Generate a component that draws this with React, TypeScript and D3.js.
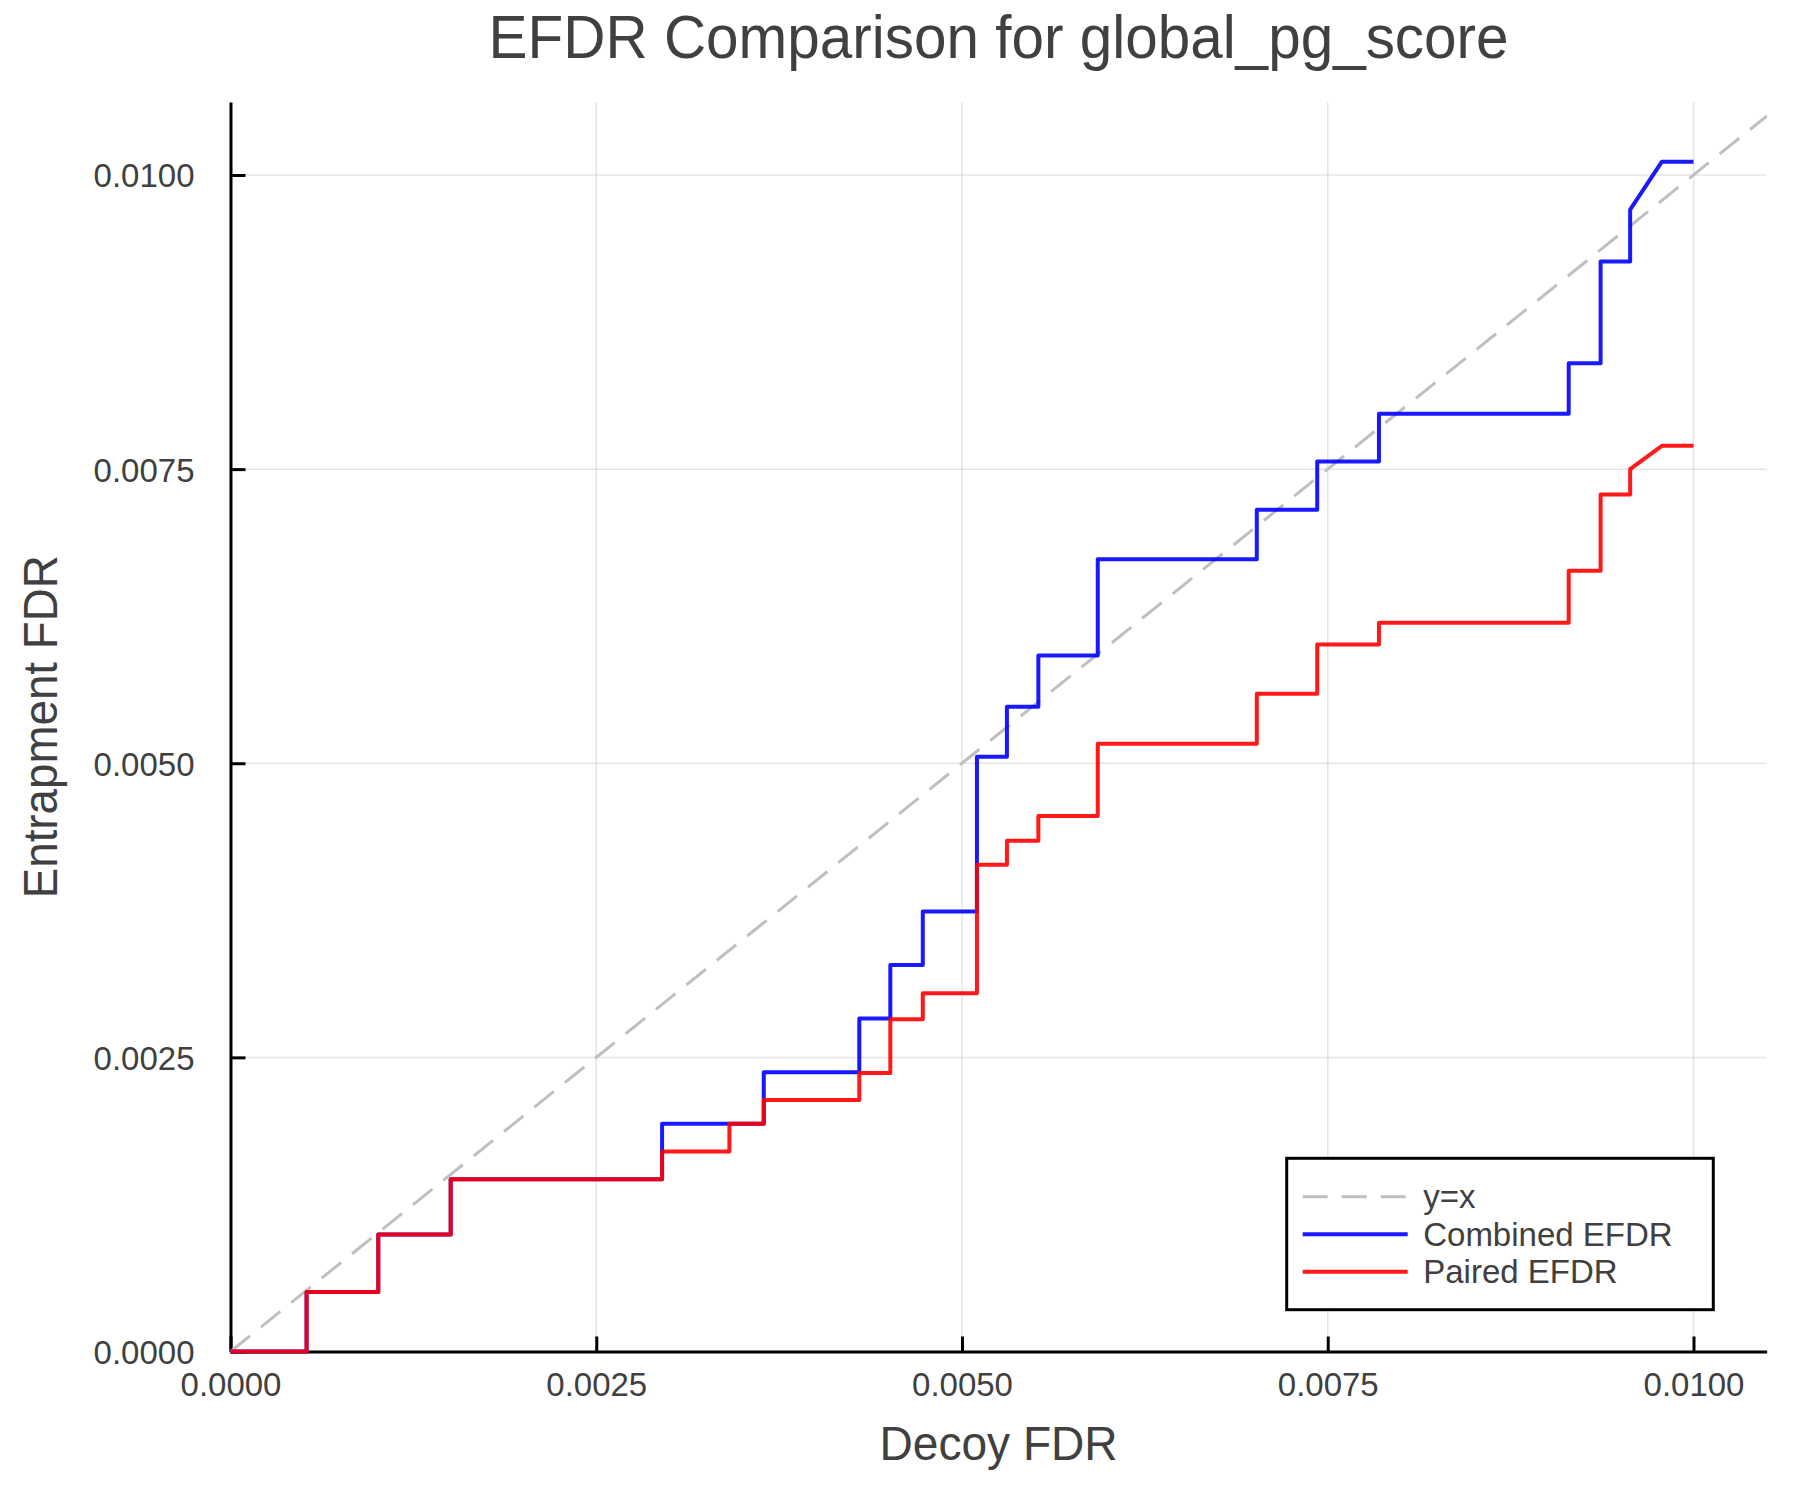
import { useEffect, useRef } from "react";
import * as d3 from "d3";

// ----- Data ----------------------------------------------------------------
// Vertices of both curves share the same decoy FDR positions.
const decoyFdr = [
  0, 0.00052, 0.00052, 0.00101, 0.00101, 0.001505, 0.001505, 0.00295, 0.00295,
  0.00341, 0.00341, 0.003645, 0.003645, 0.004298, 0.004298, 0.00451, 0.00451,
  0.004732, 0.004732, 0.005102, 0.005102, 0.005307, 0.005307, 0.005522,
  0.005522, 0.005928, 0.005928, 0.007015, 0.007015, 0.007428, 0.007428,
  0.00785, 0.00785, 0.009147, 0.009147, 0.009365, 0.009365, 0.009567, 0.009567,
  0.009784, 0.01,
];

const combinedEfdr = [
  0, 0, 0.000505, 0.000505, 0.000995, 0.000995, 0.001465, 0.001465, 0.001935,
  0.001935, 0.001935, 0.001935, 0.002373, 0.002373, 0.00283, 0.00283,
  0.003285, 0.003285, 0.00374, 0.00374, 0.005055, 0.005055, 0.00548, 0.00548,
  0.005915, 0.005915, 0.006735, 0.006735, 0.007155, 0.007155, 0.007565,
  0.007565, 0.00797, 0.00797, 0.0084, 0.0084, 0.009265, 0.009265, 0.009705,
  0.010113, 0.010113,
];

const pairedEfdr = [
  0, 0, 0.000505, 0.000505, 0.000995, 0.000995, 0.001465, 0.001465, 0.0017,
  0.0017, 0.001935, 0.001935, 0.002138, 0.002138, 0.002368, 0.002368,
  0.002825, 0.002825, 0.003045, 0.003045, 0.004137, 0.004137, 0.004342,
  0.004342, 0.004552, 0.004552, 0.005165, 0.005165, 0.00559, 0.00559, 0.00601,
  0.00601, 0.006195, 0.006195, 0.006637, 0.006637, 0.007285, 0.007285, 0.0075,
  0.007698, 0.007698,
];

const identityLine = [0, 0.0105];
const tickValues = [0, 0.0025, 0.005, 0.0075, 0.01];
const xLimit = 0.0105;
const yLimit = 0.01062;

const seriesNames = ["y=x", "Combined EFDR", "Paired EFDR"];

const WIDTH = 1800;
const HEIGHT = 1500;
const FONT = "'Liberation Sans', Arial, Helvetica, sans-serif";
const TEXT = "#404040";

const EfdrChart = () => {
  const svgRef = useRef<SVGSVGElement | null>(null);

  useEffect(() => {
    const svg = d3.select(svgRef.current);
    svg.selectAll("*").remove();

    // ----- Frame -------------------------------------------------------------
    const left = 230.5;
    const bottom = 1351.5;
    const unitX = 1463 / 0.01;
    const unitY = 1176.5 / 0.01;

    const x = d3.scaleLinear().domain([0, xLimit]).range([left, left + xLimit * unitX]);
    const y = d3.scaleLinear().domain([0, yLimit]).range([bottom, bottom - yLimit * unitY]);
    const [x0, x1] = x.range();
    const [y0, y1] = y.range();

    svg.append("rect").attr("width", WIDTH).attr("height", HEIGHT).attr("fill", "#fff");

    // ----- Grid --------------------------------------------------------------
    const grid = svg.append("g").attr("stroke", "#000").attr("stroke-opacity", 0.1).attr("stroke-width", 1.5);
    tickValues.forEach((t) => {
      grid.append("line").attr("x1", x(t)).attr("x2", x(t)).attr("y1", y0).attr("y2", y1);
      grid.append("line").attr("x1", x0).attr("x2", x1).attr("y1", y(t)).attr("y2", y(t));
    });

    // ----- Axes --------------------------------------------------------------
    const fmt = d3.format(".4f");

    const xAxis = svg
      .append("g")
      .attr("transform", `translate(0,${y0})`)
      .call(d3.axisBottom(x).tickValues(tickValues).tickFormat(fmt as any).tickSizeInner(-15).tickSizeOuter(0).tickPadding(35));
    const yAxis = svg
      .append("g")
      .attr("transform", `translate(${x0},0)`)
      .call(d3.axisLeft(y).tickValues(tickValues).tickFormat(fmt as any).tickSizeInner(-15).tickSizeOuter(0).tickPadding(36));

    [xAxis, yAxis].forEach((a) => {
      a.select(".domain").attr("stroke", "#000").attr("stroke-width", 3);
      a.selectAll(".tick line").attr("stroke", "#000").attr("stroke-width", 3);
      a.selectAll("text").attr("font-family", FONT).attr("font-size", 33).attr("fill", TEXT);
    });
    xAxis.selectAll("text").attr("dy", "0.3em");
    yAxis.selectAll("text").attr("dy", "0.36em");

    // ----- Lines -------------------------------------------------------------
    const line = d3
      .line<[number, number]>()
      .x((d) => x(d[0]))
      .y((d) => y(d[1]));

    const plot = svg.append("g");

    plot
      .append("path")
      .datum(identityLine.map((v) => [v, v] as [number, number]))
      .attr("fill", "none")
      .attr("stroke", "#bfbfbf")
      .attr("stroke-width", 3)
      .attr("stroke-dasharray", "25 14")
      .attr("d", line);

    plot
      .append("path")
      .datum(decoyFdr.map((d, i) => [d, combinedEfdr[i]] as [number, number]))
      .attr("fill", "none")
      .attr("stroke", "#0000ff")
      .attr("stroke-opacity", 0.9)
      .attr("stroke-width", 4)
      .attr("stroke-linejoin", "round")
      .attr("d", line);

    plot
      .append("path")
      .datum(decoyFdr.map((d, i) => [d, pairedEfdr[i]] as [number, number]))
      .attr("fill", "none")
      .attr("stroke", "#ff0000")
      .attr("stroke-opacity", 0.9)
      .attr("stroke-width", 4)
      .attr("stroke-linejoin", "round")
      .attr("d", line);

    // ----- Titles (GR's Helvetica runs a little narrow, so widths are pinned) --
    const cx = (x0 + x1) / 2;
    svg
      .append("text")
      .attr("x", cx)
      .attr("y", 58)
      .attr("text-anchor", "middle")
      .attr("font-family", FONT)
      .attr("font-size", 62)
      .attr("textLength", 1020)
      .attr("lengthAdjust", "spacingAndGlyphs")
      .attr("fill", TEXT)
      .text("EFDR Comparison for global_pg_score");

    svg
      .append("text")
      .attr("x", cx)
      .attr("y", 1460)
      .attr("text-anchor", "middle")
      .attr("font-family", FONT)
      .attr("font-size", 48)
      .attr("textLength", 238)
      .attr("lengthAdjust", "spacingAndGlyphs")
      .attr("fill", TEXT)
      .text("Decoy FDR");

    svg
      .append("text")
      .attr("transform", `translate(57,${(y0 + y1) / 2}) rotate(-90)`)
      .attr("text-anchor", "middle")
      .attr("font-family", FONT)
      .attr("font-size", 48)
      .attr("textLength", 343)
      .attr("lengthAdjust", "spacingAndGlyphs")
      .attr("fill", TEXT)
      .text("Entrapment FDR");

    // ----- Legend ------------------------------------------------------------
    const legend = svg.append("g").attr("transform", "translate(1286.7,1158.3)");
    legend
      .append("rect")
      .attr("width", 426.6)
      .attr("height", 151.4)
      .attr("fill", "#fff")
      .attr("stroke", "#000")
      .attr("stroke-width", 3);

    const styles = [
      { stroke: "#bfbfbf", dash: "25 14", opacity: 1 },
      { stroke: "#0000ff", dash: null, opacity: 0.9 },
      { stroke: "#ff0000", dash: null, opacity: 0.9 },
    ];
    seriesNames.forEach((name, i) => {
      const ly = 38.4 + i * 37.5;
      legend
        .append("line")
        .attr("x1", 16)
        .attr("x2", 121)
        .attr("y1", ly)
        .attr("y2", ly)
        .attr("stroke", styles[i].stroke)
        .attr("stroke-opacity", styles[i].opacity)
        .attr("stroke-width", i === 0 ? 3 : 4)
        .attr("stroke-dasharray", styles[i].dash as any);
      legend
        .append("text")
        .attr("x", 136.5)
        .attr("y", ly)
        .attr("dy", "0.35em")
        .attr("font-family", FONT)
        .attr("font-size", 33)
        .attr("fill", TEXT)
        .text(name);
    });
  }, []);

  return (
    <svg
      ref={svgRef}
      width={WIDTH}
      height={HEIGHT}
      style={{ position: "absolute", left: 0, top: 0, display: "block" }}
    />
  );
};

export default function App() {
  return <EfdrChart />;
}
